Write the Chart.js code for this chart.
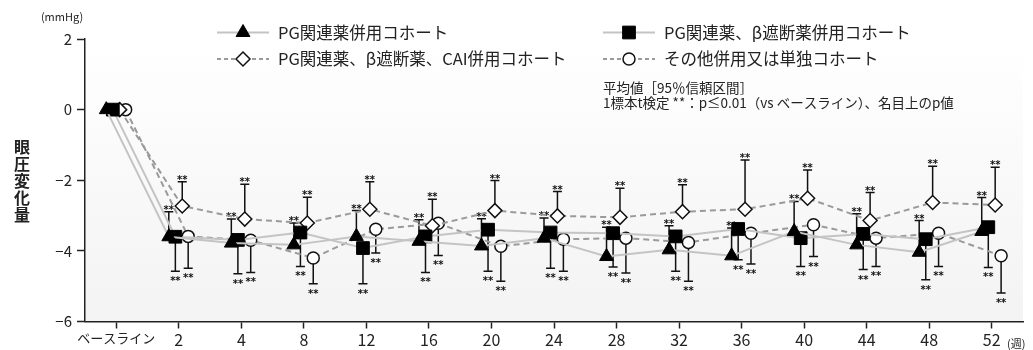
<!DOCTYPE html>
<html>
<head>
<meta charset="utf-8">
<script src="https://cdn.jsdelivr.net/npm/chart.js@4.4.1/dist/chart.umd.min.js"></script>
<style>
  html, body { margin: 0; padding: 0; background: #fff; }
  #wrap { position: relative; width: 1033px; height: 350px; }
</style>
</head>
<body>
<div id="wrap"><canvas id="c"></canvas></div>
<script>
// x categories (weeks)
const weeks = ['ベースライン', '2', '4', '8', '12', '16', '20', '24', '28', '32', '36', '40', '44', '48', '52'];
const yTicks = [2, 0, -2, -4, -6];

// PG関連薬併用コホート (mean, upper 95% CI)
const triMean  = [0, -3.60, -3.78, -3.83, -3.59, -3.73, -3.86, -3.64, -4.16, -3.97, -4.14, -3.45, -3.83, -4.04, -3.45];
const triUpper = [null, -2.89, -3.10, -3.21, -2.86, -3.12, -3.09, -3.07, -3.33, -3.29, -3.35, -2.60, -2.95, -3.14, -2.49];
// PG関連薬、β遮断薬併用コホート (mean, lower 95% CI)
const sqMean   = [0, -3.60, -3.69, -3.48, -3.92, -3.59, -3.40, -3.48, -3.50, -3.59, -3.38, -3.64, -3.52, -3.67, -3.33];
const sqLower  = [null, -4.58, -4.65, -4.44, -4.93, -4.61, -4.58, -4.49, -4.46, -4.58, -4.25, -4.44, -4.53, -4.82, -4.47];
// PG関連薬、β遮断薬、CAI併用コホート (mean, upper 95% CI)
const diaMean  = [0, -2.73, -3.10, -3.21, -2.82, -3.29, -2.86, -3.01, -3.05, -2.89, -2.82, -2.51, -3.14, -2.63, -2.70];
const diaUpper = [null, -2.04, -2.11, -2.48, -2.04, -2.54, -2.01, -2.32, -2.23, -2.13, -1.43, -1.71, -2.35, -1.60, -1.63];
// その他併用又は単独コホート (mean, lower 95% CI)
const cirMean  = [0, -3.59, -3.70, -4.20, -3.39, -3.22, -3.87, -3.67, -3.64, -3.76, -3.50, -3.26, -3.64, -3.50, -4.14];
const cirLower = [null, -4.49, -4.61, -4.93, -4.06, -4.13, -4.86, -4.58, -4.63, -4.86, -4.37, -4.16, -4.44, -4.44, -5.19];

const FONT = "'Noto Sans CJK JP', 'Noto Sans', sans-serif";
Chart.defaults.font.family = FONT;
Chart.defaults.color = '#222';

// small side-by-side shift of the four cohorts inside one week
const shift = [-0.16, -0.055, 0.055, 0.15];
const pts = (vals, k) => vals.map((v, i) => ({x: i + shift[k], y: v}));

const solid = '#c4c4c4', dashed = '#9a9a9a';

const datasets = [
  {label: 'PG関連薬併用コホート', data: pts(triMean, 0), whisker: triUpper,
   borderColor: solid, borderWidth: 2, pointStyle: 'triangle', pointRadius: 8,
   pointBackgroundColor: '#000', pointBorderColor: '#000', pointBorderWidth: 1},
  {label: 'PG関連薬、β遮断薬併用コホート', data: pts(sqMean, 1), whisker: sqLower,
   borderColor: solid, borderWidth: 2, pointStyle: 'rect', pointRadius: 9,
   pointBackgroundColor: '#000', pointBorderColor: '#000', pointBorderWidth: 1},
  {label: 'PG関連薬、β遮断薬、CAI併用コホート', data: pts(diaMean, 2), whisker: diaUpper,
   borderColor: dashed, borderWidth: 2, borderDash: [6, 4], pointStyle: 'rectRot', pointRadius: 7,
   pointBackgroundColor: '#fff', pointBorderColor: '#111', pointBorderWidth: 1.5},
  {label: 'その他併用又は単独コホート', data: pts(cirMean, 3), whisker: cirLower,
   borderColor: dashed, borderWidth: 2, borderDash: [6, 4], pointStyle: 'circle', pointRadius: 6,
   pointBackgroundColor: '#fff', pointBorderColor: '#111', pointBorderWidth: 1.5}
];

// plot background: faint vertical gradient
const backdrop = {
  id: 'backdrop',
  beforeDraw(chart) {
    const {ctx, chartArea: a} = chart;
    const g = ctx.createLinearGradient(0, a.top, 0, a.bottom);
    g.addColorStop(0, '#ffffff');
    g.addColorStop(1, '#f3f3f3');
    ctx.save();
    ctx.fillStyle = g;
    ctx.fillRect(a.left, a.top, a.right - a.left, a.bottom - a.top);
    ctx.restore();
  }
};

// one-sided 95% CI whiskers with ** marks
const whiskers = {
  id: 'whiskers',
  beforeDatasetsDraw(chart) {
    const {ctx, scales: {x, y}} = chart;
    ctx.save();
    ctx.strokeStyle = '#111';
    ctx.fillStyle = '#111';
    ctx.lineWidth = 1.5;
    ctx.font = "bold 10px 'DejaVu Sans'";
    ctx.textAlign = 'center';
    ctx.textBaseline = 'alphabetic';
    chart.data.datasets.forEach(ds => {
      ds.data.forEach((p, i) => {
        const end = ds.whisker[i];
        if (end == null) return;
        const px = x.getPixelForValue(p.x);
        const p0 = y.getPixelForValue(p.y);
        const p1 = y.getPixelForValue(end);
        ctx.beginPath();
        ctx.moveTo(px, p0); ctx.lineTo(px, p1);
        ctx.moveTo(px - 4.5, p1); ctx.lineTo(px + 4.5, p1);
        ctx.stroke();
        if (end > p.y) ctx.fillText('**', px, p1 + 1);
        else ctx.fillText('**', px, p1 + 13);
      });
    });
    ctx.restore();
  }
};

// legend, notes, axis captions
const overlay = {
  id: 'overlay',
  afterDraw(chart) {
    const ctx = chart.ctx;
    ctx.save();
    const colX = [217, 603], rowY = [32.5, 59];
    chart.data.datasets.forEach((ds, k) => {
      const x0 = colX[k % 2], yy = rowY[Math.floor(k / 2)];
      ctx.strokeStyle = ds.borderColor;
      ctx.lineWidth = 2;
      ctx.setLineDash(ds.borderDash ? [4, 3] : []);
      ctx.beginPath(); ctx.moveTo(x0, yy); ctx.lineTo(x0 + 52, yy); ctx.stroke();
      ctx.setLineDash([]);
      ctx.fillStyle = ds.pointBackgroundColor;
      ctx.strokeStyle = ds.pointBorderColor;
      ctx.lineWidth = ds.pointBorderWidth;
      Chart.helpers.drawPoint(ctx, {pointStyle: ds.pointStyle, radius: ds.pointRadius,
        rotation: 0, borderWidth: ds.pointBorderWidth}, x0 + 26, yy);
      ctx.fillStyle = '#222';
      ctx.font = '16.5px ' + FONT;
      ctx.textAlign = 'left';
      ctx.textBaseline = 'middle';
      ctx.fillText(ds.label, x0 + 61, yy);
    });

    ctx.font = '13.5px ' + FONT;
    ctx.fillText('平均値［95％信頼区間］', 603, 88);
    ctx.fillText('1標本t検定 **：p≤0.01（vs ベースライン）、名目上のp値', 603, 103);

    ctx.font = '11px ' + FONT;
    ctx.textAlign = 'center';
    ctx.fillText('(mmHg)', 62, 17);
    ctx.textAlign = 'left';
    ctx.fillText('(週)', 1007, 344);

    ctx.font = 'bold 16px ' + FONT;
    ctx.textAlign = 'center';
    [...'眼圧変化量'].forEach((ch, i) => ctx.fillText(ch, 22, 147 + i * 17));
    ctx.restore();
  }
};

new Chart(document.getElementById('c'), {
  type: 'line',
  data: {datasets},
  options: {
    responsive: true,
    maintainAspectRatio: false,
    animation: false,
    events: [],
    layout: {padding: {top: 39, right: 8, left: 0, bottom: 0}},
    elements: {line: {tension: 0}},
    plugins: {legend: {display: false}, tooltip: {enabled: false}},
    scales: {
      x: {
        type: 'linear', min: -0.5, max: weeks.length - 0.5,
        afterFit: s => { s.height = 28.5; },
        afterBuildTicks: s => { s.ticks = weeks.map((w, i) => ({value: i})); },
        ticks: {autoSkip: false, maxRotation: 0, padding: 2, color: '#222',
          font: c => ({size: c.index === 0 ? 13 : 16}), callback: v => weeks[v]},
        grid: {drawOnChartArea: false, drawTicks: true, tickLength: 7, tickWidth: 1.5, tickColor: '#222'},
        border: {color: '#222', width: 1.5}
      },
      y: {
        min: -6, max: 2,
        afterFit: s => { s.width = 85; },
        afterBuildTicks: s => { s.ticks = yTicks.map(v => ({value: v})); },
        ticks: {padding: 5, color: '#222', font: {size: 15},
          callback: v => v < 0 ? '−' + Math.abs(v) : String(v)},
        grid: {drawOnChartArea: false, drawTicks: true, tickLength: 8, tickWidth: 1.5, tickColor: '#222'},
        border: {color: '#222', width: 1.5}
      }
    }
  },
  plugins: [backdrop, whiskers, overlay]
});
</script>
</body>
</html>
